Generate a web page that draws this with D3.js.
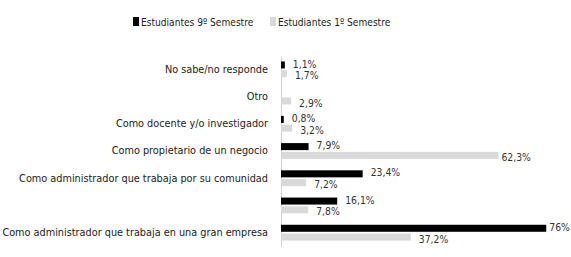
<!DOCTYPE html>
<html>
<head>
<meta charset="utf-8">
<script src="https://cdn.jsdelivr.net/npm/d3@7"></script>
<style>
  body { margin: 0; background: #fff; }
  text { font-family: "DejaVu Sans Condensed", "Liberation Sans Narrow", sans-serif; }
</style>
</head>
<body>
<div id="chart"></div>
<script>
// categories, top to bottom
var categories = [
  "No sabe/no responde",
  "Otro",
  "Como docente y/o investigador",
  "Como propietario de un negocio",
  "Como administrador que trabaja por su comunidad",
  "",
  "Como administrador que trabaja en una gran empresa"
];
var seriesNames = ["Estudiantes 9º Semestre", "Estudiantes 1º Semestre"];
var noveno = [1.1, null, 0.8, 7.9, 23.4, 16.1, 76];
var primero = [1.7, 2.9, 3.2, 62.3, 7.2, 7.8, 37.2];
var seriesColors = ["#000000", "#d9d9d9"];

var width = 571, height = 257;
var svg = d3.select("#chart").append("svg").attr("width", width).attr("height", height);

// keys so the empty category still gets its own band
var keys = categories.map(function(c, i){ return "c" + i; });

var x = d3.scaleLinear().domain([0, 100]).range([281, 630]);
var y = d3.scaleBand().domain(keys).range([56, 246]).paddingInner(0.42).paddingOuter(0.2);
var inner = d3.scaleBand().domain([0, 1]).range([0, y.bandwidth()]).paddingInner(0.2);

// axis with category labels
var yAxis = d3.axisLeft(y).tickSize(0).tickPadding(13)
  .tickFormat(function(k){ return categories[keys.indexOf(k)]; });
var gAxis = svg.append("g").attr("transform", "translate(281,0)").call(yAxis);
gAxis.select(".domain").attr("stroke", "#d0d0d0");
gAxis.selectAll("text").attr("font-size", 10.8).attr("fill", "#222")
  .attr("font-family", "'DejaVu Sans Condensed', sans-serif");

var rows = [];
categories.forEach(function(c, i){
  rows.push({ key: keys[i], s: 0, v: noveno[i] });
  rows.push({ key: keys[i], s: 1, v: primero[i] });
});
rows = rows.filter(function(r){ return r.v !== null; });

svg.selectAll("rect.bar").data(rows).enter().append("rect")
  .attr("class", "bar")
  .attr("x", x(0))
  .attr("y", function(r){ return y(r.key) + inner(r.s); })
  .attr("width", function(r){ return x(r.v) - x(0); })
  .attr("height", inner.bandwidth())
  .attr("fill", function(r){ return seriesColors[r.s]; });

svg.selectAll("text.val").data(rows).enter().append("text")
  .attr("class", "val")
  .attr("x", function(r){ return x(r.v) + (r.v > 50 ? 3 : 8); })
  .attr("y", function(r){ return y(r.key) + inner(r.s) + inner.bandwidth() / 2 + (r.s === 0 ? -1 : 2); })
  .attr("dy", "0.35em")
  .attr("font-size", 10.3)
  .attr("fill", "#333")
  .text(function(r){ return String(r.v).replace(".", ",") + "%"; });

// legend
var legendX = [133, 270];
var legend = svg.selectAll("g.leg").data(seriesNames).enter().append("g")
  .attr("transform", function(d, i){ return "translate(" + legendX[i] + ",17)"; });
legend.append("rect").attr("width", 6).attr("height", 9)
  .attr("fill", function(d, i){ return seriesColors[i]; });
legend.append("text").attr("x", 8).attr("y", 8.5)
  .attr("font-size", 10.1).attr("fill", "#222")
  .text(function(d){ return d; });
</script>
</body>
</html>
